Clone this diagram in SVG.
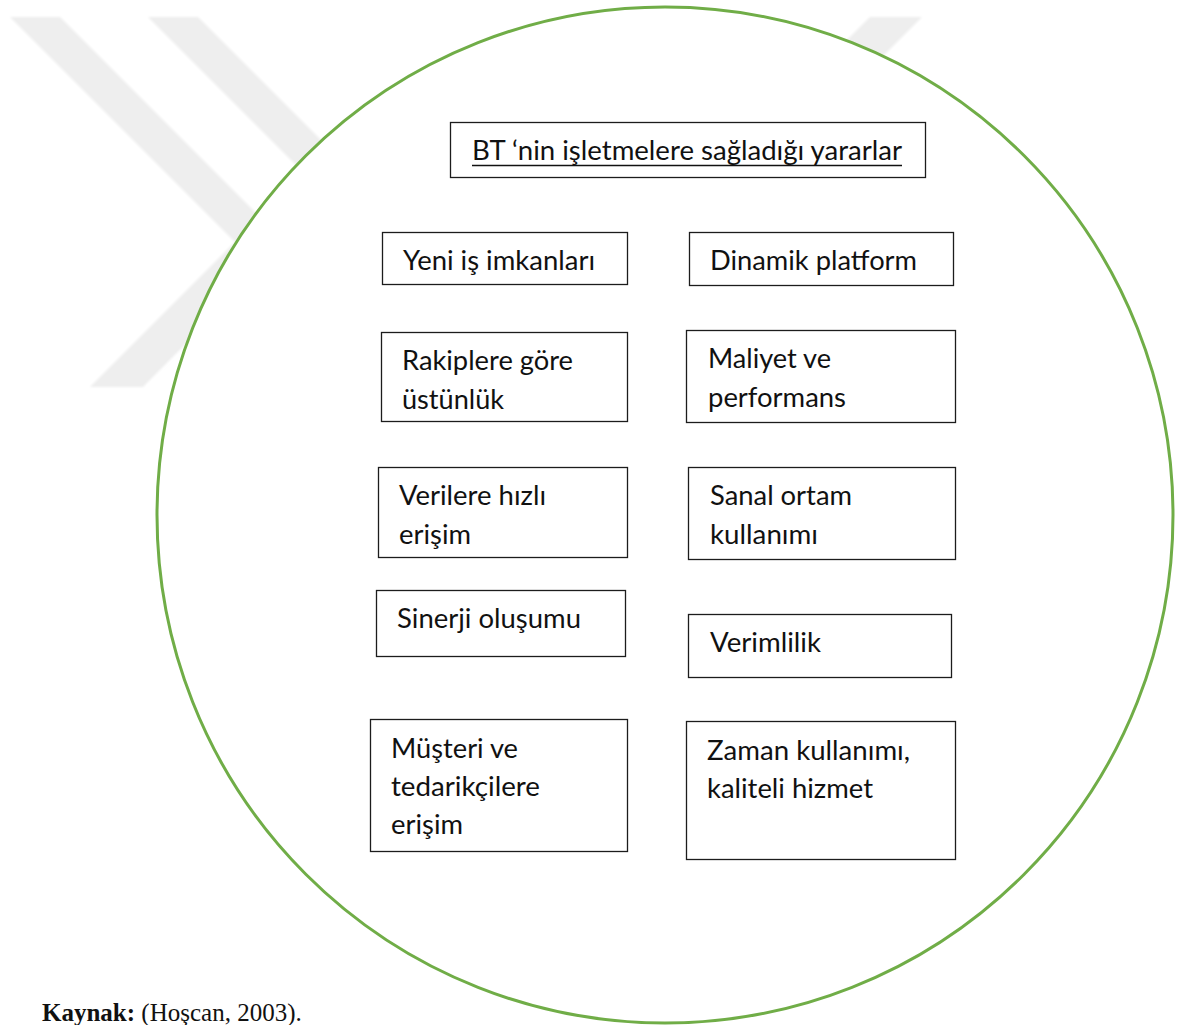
<svg xmlns="http://www.w3.org/2000/svg" width="1181" height="1025" viewBox="0 0 1181 1025">
  <defs>
    <filter id="soft" x="-5%" y="-5%" width="110%" height="110%">
      <feGaussianBlur stdDeviation="0.8"/>
    </filter>
    <style>
      .band { fill: #eeeeee; }
      .box { fill: #ffffff; stroke: #1c1c1c; stroke-width: 1.3; }
      .lbl { font-family: Lato, "Liberation Sans", sans-serif; font-size: 26px; fill: #111111; }
      .src { font-family: "Liberation Serif", "Times New Roman", serif; font-size: 25px; fill: #111111; }
    </style>
  </defs>

  <rect x="0" y="0" width="1181" height="1025" fill="#ffffff"/>

  <!-- background stripes -->
  <g id="watermark" filter="url(#soft)">
    <polygon class="band" points="10,17 60,17 286,243 143,387 90,387 235,242"/>
    <polygon class="band" points="148,17 198,17 598,417 548,417"/>
    <polygon class="band" points="870,17 922,17 522,417 470,417"/>
  </g>

  <!-- green outline circle -->
  <g id="frame">
    <circle cx="665" cy="515" r="508" fill="#ffffff" stroke="#70ad47" stroke-width="3"/>
  </g>

  <g id="connectors"></g>

  <g id="title">
    <rect class="box" x="450.5" y="122.5" width="475" height="55"/>
    <text class="lbl" x="472" y="160" textLength="430" lengthAdjust="spacingAndGlyphs">BT ‘nin işletmelere sağladığı yararlar</text>
    <line x1="472" y1="165.5" x2="902" y2="165.5" stroke="#111111" stroke-width="1.6"/>
  </g>

  <g id="yeni-is">
    <rect class="box" x="382.5" y="232.5" width="245" height="52"/>
    <text class="lbl" x="403" y="270" textLength="192" lengthAdjust="spacingAndGlyphs">Yeni iş imkanları</text>
  </g>

  <g id="dinamik">
    <rect class="box" x="689.5" y="232.5" width="264" height="53"/>
    <text class="lbl" x="710" y="270" textLength="207" lengthAdjust="spacingAndGlyphs">Dinamik platform</text>
  </g>

  <g id="rakiplere">
    <rect class="box" x="381.5" y="332.5" width="246" height="89"/>
    <text class="lbl" x="402" y="370" textLength="171" lengthAdjust="spacingAndGlyphs">Rakiplere göre</text>
    <text class="lbl" x="402" y="409" textLength="102" lengthAdjust="spacingAndGlyphs">üstünlük</text>
  </g>

  <g id="maliyet">
    <rect class="box" x="686.5" y="330.5" width="269" height="92"/>
    <text class="lbl" x="708" y="368" textLength="123" lengthAdjust="spacingAndGlyphs">Maliyet ve</text>
    <text class="lbl" x="708" y="407" textLength="138" lengthAdjust="spacingAndGlyphs">performans</text>
  </g>

  <g id="verilere">
    <rect class="box" x="378.5" y="467.5" width="249" height="90"/>
    <text class="lbl" x="399" y="505" textLength="147" lengthAdjust="spacingAndGlyphs">Verilere hızlı</text>
    <text class="lbl" x="399" y="544" textLength="72" lengthAdjust="spacingAndGlyphs">erişim</text>
  </g>

  <g id="sanal">
    <rect class="box" x="688.5" y="467.5" width="267" height="92"/>
    <text class="lbl" x="710" y="505" textLength="142" lengthAdjust="spacingAndGlyphs">Sanal ortam</text>
    <text class="lbl" x="710" y="544" textLength="108" lengthAdjust="spacingAndGlyphs">kullanımı</text>
  </g>

  <g id="sinerji">
    <rect class="box" x="376.5" y="590.5" width="249" height="66"/>
    <text class="lbl" x="397" y="628" textLength="184" lengthAdjust="spacingAndGlyphs">Sinerji oluşumu</text>
  </g>

  <g id="verimlilik">
    <rect class="box" x="688.5" y="614.5" width="263" height="63"/>
    <text class="lbl" x="710" y="652" textLength="111" lengthAdjust="spacingAndGlyphs">Verimlilik</text>
  </g>

  <g id="musteri">
    <rect class="box" x="370.5" y="719.5" width="257" height="132"/>
    <text class="lbl" x="391" y="758" textLength="127" lengthAdjust="spacingAndGlyphs">Müşteri ve</text>
    <text class="lbl" x="391" y="796" textLength="149" lengthAdjust="spacingAndGlyphs">tedarikçilere</text>
    <text class="lbl" x="391" y="834" textLength="72" lengthAdjust="spacingAndGlyphs">erişim</text>
  </g>

  <g id="zaman">
    <rect class="box" x="686.5" y="721.5" width="269" height="138"/>
    <text class="lbl" x="707" y="760" textLength="203" lengthAdjust="spacingAndGlyphs">Zaman kullanımı,</text>
    <text class="lbl" x="707" y="798" textLength="166" lengthAdjust="spacingAndGlyphs">kaliteli hizmet</text>
  </g>

  <g id="source">
    <text class="src" x="42" y="1021"><tspan font-weight="bold">Kaynak:</tspan> (Hoşcan, 2003).</text>
  </g>
</svg>
